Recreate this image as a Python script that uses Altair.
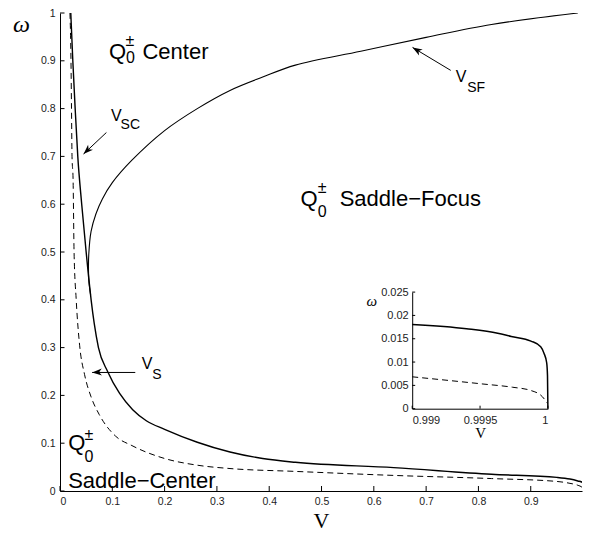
import altair as alt
import pandas as pd

# ---------------- data ----------------
# V_S : solid curve
vs_V = [0.0206, 0.0245, 0.029, 0.034, 0.0415, 0.050, 0.0545, 0.0595, 0.0655, 0.0735,
        0.091, 0.1140, 0.1390, 0.1650, 0.200, 0.2625, 0.325, 0.3875, 0.45,
        0.638, 0.825, 0.95, 0.975, 0.99, 0.999, 1.0]
vs_W = [1.0, 0.9, 0.8, 0.7, 0.6, 0.5, 0.45, 0.40, 0.35, 0.30,
        0.25, 0.204, 0.170, 0.147, 0.129, 0.102, 0.0815, 0.068, 0.060,
        0.049, 0.035, 0.0285, 0.025, 0.021, 0.018, 0.0]
# V_SC : dashed curve
vsc_V = [0.019, 0.021, 0.022, 0.023, 0.025, 0.0269, 0.031, 0.0375, 0.0469, 0.0594,
         0.075, 0.106, 0.1375, 0.200, 0.2625, 0.325, 0.45, 0.638, 0.825, 0.95,
         0.975, 0.99, 0.999, 1.0]
vsc_W = [1.0, 0.9, 0.8, 0.7, 0.652, 0.5, 0.40, 0.305, 0.244, 0.197,
         0.160, 0.115, 0.095, 0.068, 0.054, 0.047, 0.041, 0.0326, 0.026, 0.020,
         0.016, 0.012, 0.0068, 0.001]
# V_SF : solid curve (not a function of V)
vsf_V = [0.0585, 0.0555, 0.0545, 0.055, 0.0594, 0.0688, 0.081, 0.100, 0.1375, 0.200,
         0.2625, 0.325, 0.3875, 0.45, 0.575, 0.70, 0.825, 0.99]
vsf_W = [0.41, 0.435, 0.46, 0.495, 0.543, 0.58, 0.611, 0.645, 0.692, 0.754,
         0.80, 0.838, 0.866, 0.891, 0.92, 0.949, 0.976, 1.0]

# inset curves
in_s_V = [0.999, 0.9994, 0.99963, 0.99973, 0.999875, 0.999947, 0.999971, 0.999991, 0.999997, 1.0]
in_s_W = [0.01805, 0.01715, 0.0162, 0.0155, 0.0145, 0.0133, 0.0119, 0.00985, 0.0071, 0.0]
in_sc_V = [0.999, 0.999513, 0.99974, 0.999875, 0.99996, 0.999996]
in_sc_W = [0.00684, 0.00532, 0.0046, 0.0039, 0.00255, 0.00115]

# tick labels
x_ticks = [0, 0.1, 0.2, 0.3, 0.4, 0.5, 0.6, 0.7, 0.8, 0.9]
y_ticks = [0, 0.1, 0.2, 0.3, 0.4, 0.5, 0.6, 0.7, 0.8, 0.9, 1]
in_x_ticks = [0.999, 0.9995, 1]
in_y_ticks = [0, 0.005, 0.01, 0.015, 0.02, 0.025]

# annotations
lab_text = ["Q", "±", "0", "Center",
            "V", "SC", "V", "S", "V", "SF",
            "Q", "±", "0", "Saddle−Focus",
            "Q", "±", "0", "Saddle−Center"]
lab_V = [0.0938, 0.1251, 0.1263, 0.1576,
         0.0976, 0.1158, 0.1563, 0.1764, 0.7567, 0.7786,
         0.4597, 0.4928, 0.4928, 0.5347,
         0.0156, 0.0469, 0.0469, 0.0156]
lab_W = [0.9043, 0.9314, 0.8947, 0.9043,
         0.7739, 0.7570, 0.2546, 0.2342, 0.8554, 0.8350,
         0.5967, 0.6232, 0.5737, 0.5967,
         0.0849, 0.1059, 0.0611, 0.0067]
lab_size = [22, 16, 16, 22,
            16, 14, 16, 14, 16, 14,
            22, 16, 16, 22,
            22, 16, 16, 22]

arr_tail_V = [0.0887, 0.1439, 0.747]
arr_tail_W = [0.750, 0.248, 0.880]
arr_head_V = [0.045, 0.0614, 0.674]
arr_head_W = [0.705, 0.248, 0.928]
arr_angle = [136, 178, 211]

# ---------------- layout ----------------
W, H = 522, 478
IN_X0, IN_X1 = 352.2, 487.9
IN_Y0, IN_Y1 = 395.7, 279.1

XS = alt.Scale(domain=[0, 0.998], nice=False, zero=False)
YS = alt.Scale(domain=[0, 1], nice=False, zero=False)

AX = alt.Axis(values=x_ticks, format="~g", ticks=False, tickSize=0, grid=False,
              labelPadding=5, labelFontSize=10.5, title="V",
              titleFont="Liberation Serif", titleFontSize=22, titleFontWeight="normal",
              titleBaseline="alphabetic", titleY=36)
AY = alt.Axis(values=y_ticks, format="~g", ticks=False, tickSize=0, grid=False,
              labelPadding=5, labelFontSize=10.5, title="ω", titleAngle=0,
              titleX=-39, titleY=11, titleAlign="center", titleBaseline="middle",
              titleFont="Liberation Serif", titleFontSize=24, titleFontWeight="normal",
              titleFontStyle="italic")


def X(field="V"):
    return alt.X(f"{field}:Q", scale=XS, axis=AX)


def Y(field="W"):
    return alt.Y(f"{field}:Q", scale=YS, axis=AY)


def line(v, w, width, interp, dash=None):
    df = pd.DataFrame({"V": v, "W": w, "i": list(range(len(v)))})
    kw = dict(color="black", strokeWidth=width, clip=True, interpolate=interp)
    if dash:
        kw["strokeDash"] = dash
    return alt.Chart(df).mark_line(**kw).encode(x=X(), y=Y(), order="i:Q")


main_lines = [
    line(vs_V, vs_W, 1.4, "monotone"),
    line(vsc_V, vsc_W, 1.0, "monotone", [6, 4]),
    line(vsf_V, vsf_W, 1.1, "catmull-rom"),
]

xt = alt.Chart(pd.DataFrame({"V": x_ticks})).mark_rule(color="black", strokeWidth=1).encode(
    x=X(), y=alt.value(H), y2=alt.value(H - 5))
yt = alt.Chart(pd.DataFrame({"W": y_ticks})).mark_rule(color="black", strokeWidth=1).encode(
    y=Y(), x=alt.value(0), x2=alt.value(4.5))

labels = alt.Chart(pd.DataFrame({"V": lab_V, "W": lab_W, "t": lab_text, "fs": lab_size})).mark_text(
    align="left", baseline="alphabetic", font="Liberation Sans", color="black").encode(
    x=X(), y=Y(), text="t:N", size=alt.Size("fs:Q", scale=None))

arr_df = pd.DataFrame({"V": arr_tail_V, "W": arr_tail_W, "V2": arr_head_V, "W2": arr_head_W,
                       "ang": arr_angle})
arr_lines = alt.Chart(arr_df).mark_rule(color="black", strokeWidth=1).encode(
    x=X(), y=Y(), x2="V2:Q", y2="W2:Q")
arr_heads = alt.Chart(arr_df).mark_point(
    shape="M 0 0 L -1 -0.36 L -0.72 0 L -1 0.36 Z", filled=True, color="black",
    size=380, opacity=1).encode(
    x=alt.X("V2:Q", scale=XS, axis=AX), y=alt.Y("W2:Q", scale=YS, axis=AY),
    angle=alt.Angle("ang:Q", scale=None))

main_layer = alt.layer(*main_lines, xt, yt, arr_lines, arr_heads, labels)

# ---------------- inset ----------------
IXS = alt.Scale(domain=[0.999, 1], range=[IN_X0, IN_X1], nice=False, zero=False)
IYS = alt.Scale(domain=[0, 0.025], range=[IN_Y0, IN_Y1], nice=False, zero=False)
IAX = alt.Axis(orient="bottom", offset=-(H - IN_Y0), values=in_x_ticks, format="~g",
               ticks=False, tickSize=0, grid=False, labelPadding=6, labelFontSize=11,
               title="V", titleFont="Liberation Serif", titleFontSize=15,
               titleFontWeight="normal", titleBaseline="alphabetic", titleY=29)
IAY = alt.Axis(orient="left", offset=-IN_X0, values=in_y_ticks, format="~g",
               ticks=False, tickSize=0, grid=False, labelPadding=4, labelFontSize=11,
               title="ω", titleAngle=0, titleX=-41, titleY=287, titleAlign="center",
               titleBaseline="middle", titleFont="Liberation Serif", titleFontSize=15,
               titleFontWeight="normal", titleFontStyle="italic")


def iline(v, w, width, dash=None):
    df = pd.DataFrame({"V": v, "W": w, "i": list(range(len(v)))})
    kw = dict(color="black", strokeWidth=width, interpolate="monotone")
    if dash:
        kw["strokeDash"] = dash
    return alt.Chart(df).mark_line(**kw).encode(
        x=alt.X("V:Q", scale=IXS, axis=IAX), y=alt.Y("W:Q", scale=IYS, axis=IAY), order="i:Q")


ixt = alt.Chart(pd.DataFrame({"V": in_x_ticks})).mark_rule(color="black", strokeWidth=1).encode(
    x=alt.X("V:Q", scale=IXS, axis=IAX), y=alt.value(IN_Y0), y2=alt.value(IN_Y0 - 3))
iyt = alt.Chart(pd.DataFrame({"W": in_y_ticks})).mark_rule(color="black", strokeWidth=1).encode(
    y=alt.Y("W:Q", scale=IYS, axis=IAY), x=alt.value(IN_X0), x2=alt.value(IN_X0 + 3))

inset_layer = alt.layer(iline(in_s_V, in_s_W, 1.5), iline(in_sc_V, in_sc_W, 1.0, [6, 4]), ixt, iyt)

chart = alt.layer(main_layer, inset_layer).resolve_scale(
    x="independent", y="independent").resolve_axis(x="independent", y="independent").properties(
    width=W, height=H,
    padding={"left": 52, "top": 5, "right": 2, "bottom": 41},
    autosize=alt.AutoSizeParams(type="none"),
    background="white",
).configure_view(stroke="transparent").configure_axis(
    domainColor="black", domainWidth=1, labelColor="#222222", labelFont="Liberation Sans",
    titleColor="black")

chart.save("out.html", embed_options={"renderer": "svg", "actions": False})
